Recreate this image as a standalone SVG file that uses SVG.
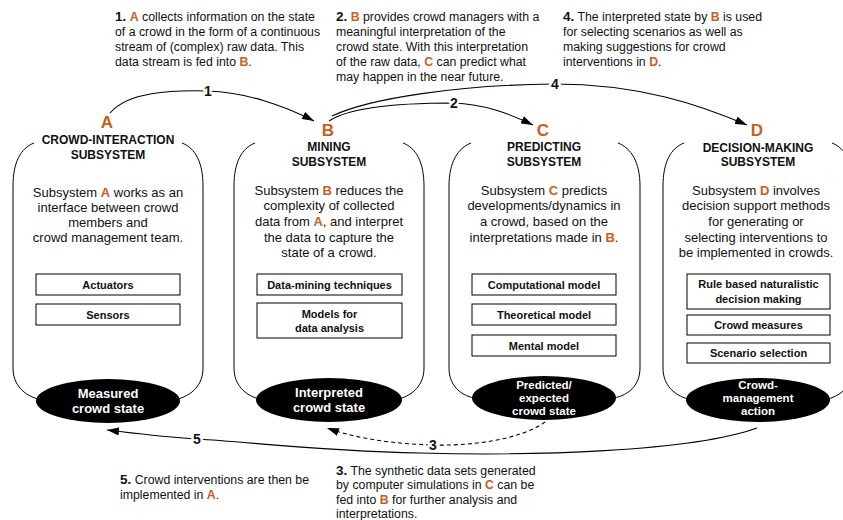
<svg xmlns="http://www.w3.org/2000/svg" width="843" height="520" viewBox="0 0 843 520">
<style>
text{font-family:"Liberation Sans",Arial,Helvetica,sans-serif;fill:#111}
.para{font-size:12.3px}
.num{font-weight:bold;font-size:13.5px}
.o{fill:#c8601c;font-weight:bold}
.title{font-size:12px;font-weight:bold;text-anchor:middle}
.letter{font-size:17px;font-weight:bold;fill:#c8601c;text-anchor:middle}
.desc{font-size:13px;text-anchor:middle}
.box{fill:#fff;stroke:#000;stroke-width:1}
.boxt{font-size:11px;font-weight:bold;text-anchor:middle}
.ell{fill:#000}
.ellt{fill:#fff;font-size:13px;font-weight:bold;text-anchor:middle}
.ellt3{fill:#fff;font-size:11.5px;font-weight:bold;text-anchor:middle}
.cont{fill:none;stroke:#000;stroke-width:1}
.conn{fill:none;stroke:#000;stroke-width:1.1}
.dash{stroke-dasharray:4 3}
.lbl{font-size:14px;font-weight:bold;text-anchor:middle;stroke:#fff;stroke-width:5;paint-order:stroke;stroke-linejoin:round}
</style>
<defs>
<marker id="arr" viewBox="0 0 12 8" refX="12" refY="4" markerWidth="12" markerHeight="8" markerUnits="userSpaceOnUse" orient="auto">
<path d="M0,0 L12,4 L0,8 z" fill="#000"/>
</marker>
</defs>

<!-- top paragraphs -->
<g id="note1">
<text class="para" x="115" y="21"><tspan class="num">1.</tspan> <tspan class="o">A</tspan> collects information on the state</text>
<text class="para" x="115" y="36">of a crowd in the form of a continuous</text>
<text class="para" x="115" y="51">stream of (complex) raw data. This</text>
<text class="para" x="115" y="66">data stream is fed into <tspan class="o">B</tspan>.</text>
</g>
<g id="note2">
<text class="para" x="336" y="21"><tspan class="num">2.</tspan> <tspan class="o">B</tspan> provides crowd managers with a</text>
<text class="para" x="336" y="36">meaningful interpretation of the</text>
<text class="para" x="336" y="51">crowd state. With this interpretation</text>
<text class="para" x="336" y="66">of the raw data, <tspan class="o">C</tspan> can predict what</text>
<text class="para" x="336" y="81">may happen in the near future.</text>
</g>
<g id="note4">
<text class="para" x="563" y="21"><tspan class="num">4.</tspan> The interpreted state by <tspan class="o">B</tspan> is used</text>
<text class="para" x="563" y="36">for selecting scenarios as well as</text>
<text class="para" x="563" y="51">making suggestions for crowd</text>
<text class="para" x="563" y="66">interventions in <tspan class="o">D</tspan>.</text>
</g>
<g id="note5">
<text class="para" x="120" y="484"><tspan class="num">5.</tspan> Crowd interventions are then be</text>
<text class="para" x="120" y="499">implemented in <tspan class="o">A</tspan>.</text>
</g>
<g id="note3">
<text class="para" x="336" y="475"><tspan class="num">3.</tspan> The synthetic data sets generated</text>
<text class="para" x="336" y="489">by computer simulations in <tspan class="o">C</tspan> can be</text>
<text class="para" x="336" y="504">fed into <tspan class="o">B</tspan> for further analysis and</text>
<text class="para" x="336" y="518">interpretations.</text>
</g>

<!-- Subsystem A -->
<g id="nodeA">
<path class="cont" d="M34,143 C21,148 13,162 13,186 L13,368 C13,385 24,395 38,399"/>
<path class="cont" d="M182,143 C195,148 203,162 203,186 L203,368 C203,385 192,395 178,399"/>
<text class="letter" x="107" y="128">A</text>
<text class="title" x="108" y="144">CROWD-INTERACTION</text>
<text class="title" x="108" y="159">SUBSYSTEM</text>
<text class="desc" x="108" y="197">Subsystem <tspan class="o">A</tspan> works as an</text>
<text class="desc" x="108" y="212">interface between crowd</text>
<text class="desc" x="108" y="227">members and</text>
<text class="desc" x="108" y="242">crowd management team.</text>
<rect class="box" x="36" y="274" width="144" height="21"/>
<text class="boxt" x="108" y="288.5">Actuators</text>
<rect class="box" x="36" y="304" width="144" height="21"/>
<text class="boxt" x="108" y="318.5">Sensors</text>
<ellipse class="ell" cx="108" cy="401" rx="72" ry="22"/>
<text class="ellt" x="108" y="398">Measured</text>
<text class="ellt" x="108" y="413">crowd state</text>
</g>

<!-- Subsystem B -->
<g id="nodeB">
<path class="cont" d="M255,143 C242,148 234,162 234,186 L234,368 C234,385 245,395 259,399"/>
<path class="cont" d="M403,143 C416,148 424,162 424,186 L424,368 C424,385 413,395 399,399"/>
<text class="letter" x="328" y="136">B</text>
<text class="title" x="329" y="151">MINING</text>
<text class="title" x="329" y="166">SUBSYSTEM</text>
<text class="desc" x="329" y="195">Subsystem <tspan class="o">B</tspan> reduces the</text>
<text class="desc" x="329" y="210">complexity of collected</text>
<text class="desc" x="329" y="226">data from <tspan class="o">A</tspan>, and interpret</text>
<text class="desc" x="329" y="242">the data to capture the</text>
<text class="desc" x="329" y="257">state of a crowd.</text>
<rect class="box" x="257" y="274" width="145" height="21"/>
<text class="boxt" x="329.5" y="288.5">Data-mining techniques</text>
<rect class="box" x="257" y="303" width="145" height="35"/>
<text class="boxt" x="329.5" y="318">Models for</text>
<text class="boxt" x="329.5" y="332">data analysis</text>
<ellipse class="ell" cx="329" cy="400" rx="73" ry="22"/>
<text class="ellt" x="329" y="397">Interpreted</text>
<text class="ellt" x="329" y="412">crowd state</text>
</g>

<!-- Subsystem C -->
<g id="nodeC">
<path class="cont" d="M471,143 C458,148 449,162 449,186 L449,368 C449,385 460,395 474,398"/>
<path class="cont" d="M618,143 C631,148 640,162 640,186 L640,368 C640,385 629,395 614,398"/>
<text class="letter" x="543" y="136">C</text>
<text class="title" x="544" y="151">PREDICTING</text>
<text class="title" x="544" y="166">SUBSYSTEM</text>
<text class="desc" x="544" y="195">Subsystem <tspan class="o">C</tspan> predicts</text>
<text class="desc" x="544" y="210">developments/dynamics in</text>
<text class="desc" x="544" y="226">a crowd, based on the</text>
<text class="desc" x="544" y="242">interpretations made in <tspan class="o">B</tspan>.</text>
<rect class="box" x="472" y="274" width="144" height="21"/>
<text class="boxt" x="544" y="288.5">Computational model</text>
<rect class="box" x="472" y="304" width="144" height="21"/>
<text class="boxt" x="544" y="318.5">Theoretical model</text>
<rect class="box" x="472" y="335" width="144" height="21"/>
<text class="boxt" x="544" y="349.5">Mental model</text>
<ellipse class="ell" cx="544" cy="398" rx="72" ry="22"/>
<text class="ellt3" x="544" y="389">Predicted/</text>
<text class="ellt3" x="544" y="402">expected</text>
<text class="ellt3" x="544" y="415">crowd state</text>
</g>

<!-- Subsystem D -->
<g id="nodeD">
<path class="cont" d="M684,143 C671,148 663,162 663,186 L663,368 C663,385 674,395 688,399"/>
<path class="cont" d="M832,143 C845,148 853,162 853,186 L853,368 C853,385 842,395 828,399"/>
<text class="letter" x="757" y="135.5">D</text>
<text class="title" x="758" y="151.5">DECISION-MAKING</text>
<text class="title" x="758" y="166">SUBSYSTEM</text>
<text class="desc" x="756" y="195">Subsystem <tspan class="o">D</tspan> involves</text>
<text class="desc" x="756" y="210">decision support methods</text>
<text class="desc" x="756" y="226">for generating or</text>
<text class="desc" x="756" y="242">selecting interventions to</text>
<text class="desc" x="756" y="257">be implemented in crowds.</text>
<rect class="box" x="687" y="274" width="143" height="35"/>
<text class="boxt" x="758.5" y="288">Rule based naturalistic</text>
<text class="boxt" x="758.5" y="303">decision making</text>
<rect class="box" x="687" y="315" width="143" height="20"/>
<text class="boxt" x="758.5" y="329">Crowd measures</text>
<rect class="box" x="687" y="343" width="143" height="20"/>
<text class="boxt" x="758.5" y="357">Scenario selection</text>
<ellipse class="ell" cx="758" cy="400" rx="72" ry="22"/>
<text class="ellt3" x="758" y="389">Crowd-</text>
<text class="ellt3" x="758" y="402">management</text>
<text class="ellt3" x="758" y="415">action</text>
</g>

<!-- connectors -->
<g id="connectors">
<path class="conn" d="M110,113 C128,92 170,90 208,91 C245,92 285,106 314,121" marker-end="url(#arr)"/>
<text class="lbl" x="208" y="96">1</text>
<path class="conn" d="M329,121 C350,107 400,103 453,103 C485,104 510,114 533,125" marker-end="url(#arr)"/>
<text class="lbl" x="454" y="108">2</text>
<path class="conn" d="M332,116 C370,98 460,85 554,84 C640,84 700,105 747,125" marker-end="url(#arr)"/>
<text class="lbl" x="555" y="89">4</text>
<path class="conn dash" d="M545,422 C520,440 470,446 433,445 C400,444 360,440 327,428" marker-end="url(#arr)"/>
<text class="lbl" x="433" y="450">3</text>
<path class="conn" d="M757,428 C690,452 530,456 420,453 C320,451 250,442 197,439 C160,437 132,433 107,430" marker-end="url(#arr)"/>
<text class="lbl" x="197" y="444">5</text>
</g>
</svg>
